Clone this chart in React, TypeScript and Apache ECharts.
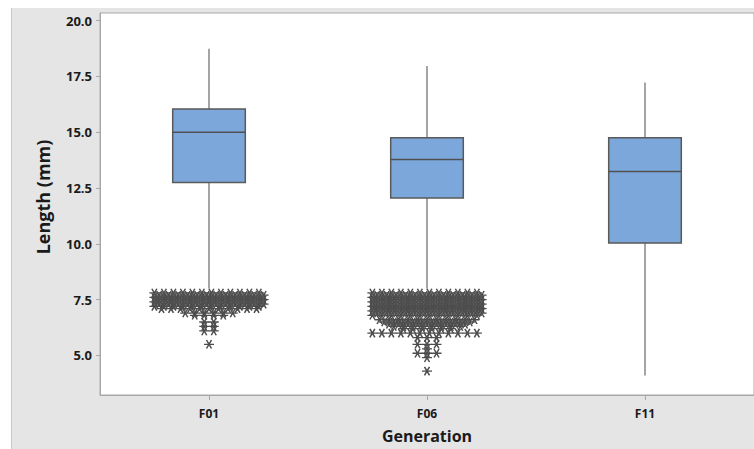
import React, { useEffect, useRef } from "react";
import * as echarts from "echarts";

const categories = ["F01", "F06", "F11"];
// [lower whisker, Q1, median, Q3, upper whisker]
const boxMin = [8.0, 8.0, 4.1];
const boxQ1 = [12.75, 12.05, 10.04];
const boxMedian = [15.0, 13.78, 13.24];
const boxQ3 = [16.04, 14.75, 14.75];
const boxMax = [18.74, 17.97, 17.23];

const yTicks = [5, 7.5, 10, 12.5, 15, 17.5, 20];

// outliers: value and number of stacked points at that value
const f01OutlierValues = [7.8, 7.7, 7.6, 7.5, 7.4, 7.3, 7.2, 7.1, 6.9, 6.8, 6.5, 6.3, 6.1, 5.5];
const f01OutlierCounts = [12, 12, 12, 12, 12, 12, 12, 11, 6, 4, 2, 2, 2, 1];
const f06OutlierValues = [7.8, 7.7, 7.6, 7.5, 7.4, 7.3, 7.2, 7.1, 7.0, 6.9, 6.8, 6.6, 6.5, 6.4, 6.3, 6.2, 6.0, 5.8, 5.5, 5.3, 5.1, 4.9, 4.3];
const f06OutlierCounts = [12, 12, 12, 12, 12, 12, 12, 12, 12, 12, 12, 11, 10, 9, 8, 6, 12, 3, 3, 1, 3, 1, 1];

const STAR = "path://M-5,0L5,0M-2.5,-4.33L2.5,4.33M2.5,-4.33L-2.5,4.33";
const SPACING = 9.5;

function buildOutliers(catIndex: number, values: number[], counts: number[]) {
  const out: any[] = [];
  values.forEach((v, k) => {
    const n = counts[k];
    // stagger alternate full rows so the dense band fills in
    const stagger = n >= 12 ? (k % 2 === 0 ? -SPACING / 4 : SPACING / 4) : 0;
    for (let i = 0; i < n; i++) {
      out.push({ value: [catIndex, v], symbolOffset: [(i - (n - 1) / 2) * SPACING + stagger, 0] });
    }
  });
  return out;
}

export default function App() {
  const ref = useRef<HTMLDivElement>(null);
  useEffect(() => {
    if (!ref.current) return;
    const chart = echarts.init(ref.current, null, { renderer: "svg" });
    const boxData = categories.map((c, i) => [i, boxMin[i], boxQ1[i], boxMedian[i], boxQ3[i], boxMax[i]]);
    const outliers = [
      ...buildOutliers(0, f01OutlierValues, f01OutlierCounts),
      ...buildOutliers(1, f06OutlierValues, f06OutlierCounts),
    ];
    const font = "'Open Sans', Lato, sans-serif";
    chart.setOption({
      animation: false,
      backgroundColor: "transparent",
      grid: {
        left: 100,
        top: 13,
        width: 660,
        height: 384,
        show: true,
        backgroundColor: "#ffffff",
        borderColor: "#A8A8A8",
        borderWidth: 1,
      },
      xAxis: {
        type: "category",
        data: categories,
        boundaryGap: true,
        name: "Generation",
        nameLocation: "middle",
        nameGap: 33,
        nameTextStyle: { fontFamily: font, fontWeight: "bold", fontSize: 16, color: "#1a1a1a" },
        axisLine: { show: true, lineStyle: { color: "#A8A8A8", width: 1 } },
        axisTick: { show: true, alignWithLabel: true, length: 5, lineStyle: { color: "#A8A8A8" } },
        axisLabel: { fontFamily: font, fontWeight: "bold", fontSize: 12, color: "#1a1a1a", margin: 12 },
        splitLine: { show: false },
      },
      yAxis: {
        type: "value",
        min: 3.23,
        max: 20.34,
        name: "Length (mm)",
        nameLocation: "middle",
        nameGap: 48,
        nameRotate: 90,
        nameTextStyle: { fontFamily: font, fontWeight: "bold", fontSize: 18, color: "#1a1a1a", padding: [0, 0, 0, 14] },
        axisLine: { show: true, lineStyle: { color: "#A8A8A8", width: 1 } },
        axisTick: { show: true, length: 4, customValues: yTicks, lineStyle: { color: "#A8A8A8" } },
        axisLabel: {
          customValues: yTicks,
          formatter: (v: number) => v.toFixed(1),
          fontFamily: font,
          fontWeight: "bold",
          fontSize: 13,
          color: "#1a1a1a",
          margin: 8,
        },
        splitLine: { show: false },
      },
      series: [
        {
          type: "custom",
          data: boxData,
          encode: { x: 0, y: [1, 2, 3, 4, 5] },
          z: 2,
          renderItem: (params: any, api: any) => {
            const x = api.value(0);
            const pMin = api.coord([x, api.value(1)]);
            const pQ1 = api.coord([x, api.value(2)]);
            const pMed = api.coord([x, api.value(3)]);
            const pQ3 = api.coord([x, api.value(4)]);
            const pMax = api.coord([x, api.value(5)]);
            const bw = api.size([1, 0])[0] * 0.333;
            const cx = pMed[0];
            const whisker = { stroke: "#7F7F7F", lineWidth: 1.4 };
            return {
              type: "group",
              children: [
                { type: "line", shape: { x1: cx, y1: pMax[1], x2: cx, y2: pQ3[1] }, style: whisker },
                { type: "line", shape: { x1: cx, y1: pQ1[1], x2: cx, y2: pMin[1] }, style: whisker },
                {
                  type: "rect",
                  shape: { x: cx - bw / 2, y: pQ3[1], width: bw, height: pQ1[1] - pQ3[1] },
                  style: { fill: "#7BA7DB", stroke: "#5A5A5A", lineWidth: 1.5 },
                },
                {
                  type: "line",
                  shape: { x1: cx - bw / 2, y1: pMed[1], x2: cx + bw / 2, y2: pMed[1] },
                  style: { stroke: "#505050", lineWidth: 1.5 },
                },
              ],
            };
          },
        },
        {
          type: "scatter",
          data: outliers,
          symbol: STAR,
          symbolSize: [10, 8.5],
          z: 3,
          itemStyle: { color: "rgba(0,0,0,0)", borderColor: "#4D4D4D", borderWidth: 1.4, opacity: 1 },
        },
      ],
    });
    return () => chart.dispose();
  }, []);
  return (
    <div style={{ position: "fixed", left: 0, top: 0, width: 754, height: 449, background: "#ffffff" }}>
      <div
        style={{
          position: "absolute",
          left: 11,
          top: 8,
          right: 0,
          bottom: 0,
          background: "#E5E5E5",
          borderLeft: "1px solid #C8C8C8",
        }}
      />
      <div ref={ref} style={{ position: "absolute", left: 0, top: 0, width: 754, height: 449 }} />
    </div>
  );
}
